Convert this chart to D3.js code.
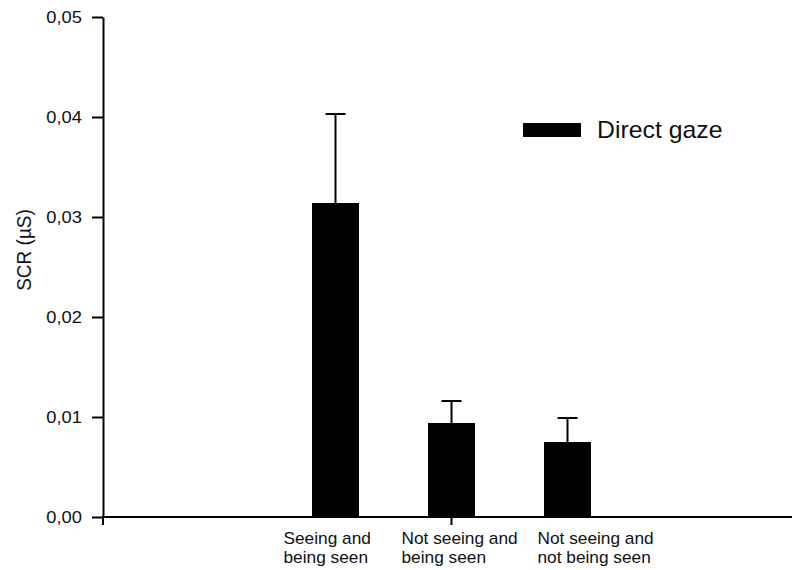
<!DOCTYPE html>
<html>
<head>
<meta charset="utf-8">
<script src="https://cdn.jsdelivr.net/npm/d3@7"></script>
<style>
  html, body { margin: 0; padding: 0; background: #fff; }
  svg { display: block; }
  text { font-family: Arial, "Liberation Sans", sans-serif; fill: #111; }
</style>
</head>
<body>
<svg id="chart" width="792" height="570"></svg>
<script>
// ---- data ----
const categories = [
  ["Seeing and", "being seen"],
  ["Not seeing and", "being seen"],
  ["Not seeing and", "not being seen"]
];
const meanSCR = [0.0314, 0.0094, 0.0075];
const seSCR   = [0.0089, 0.0022, 0.0024];
const yTicks  = [0, 0.01, 0.02, 0.03, 0.04, 0.05];
const seriesName = "Direct gaze";
const yLabel = "SCR (µS)";

// ---- layout ----
const svg = d3.select("#chart");
const SX = 1.08;                 // slight horizontal stretch seen in the reference text
const plotLeft = 103, plotBottom = 517, plotTop = 17, axisRight = 792;
const labelShift = [-52, -50, -30];

const y = d3.scaleLinear().domain([0, 0.05]).range([plotBottom, plotTop]);
const x = d3.scaleBand()
  .domain(d3.range(categories.length))
  .range([277.5, 625.5])
  .paddingInner(0.595)
  .paddingOuter(0.2975);

const fmt = d3.formatLocale({decimal: ",", thousands: ".", grouping: [3], currency: ["", ""]}).format(".2f");

// bars
svg.append("g").selectAll("rect").data(meanSCR).join("rect")
  .attr("x", (d, i) => x(i))
  .attr("width", x.bandwidth())
  .attr("y", d => y(d))
  .attr("height", d => y(0) - y(d))
  .attr("fill", "#000");

// error bars (upper only)
const eb = svg.append("g").attr("stroke", "#000").attr("stroke-width", 2);
meanSCR.forEach((m, i) => {
  const cx = x(i) + x.bandwidth() / 2;
  eb.append("line").attr("x1", cx).attr("x2", cx).attr("y1", y(m)).attr("y2", y(m + seSCR[i]));
  eb.append("line").attr("x1", cx - 10).attr("x2", cx + 10).attr("y1", y(m + seSCR[i])).attr("y2", y(m + seSCR[i]));
});

// y axis
const yAxis = d3.axisLeft(y).tickValues(yTicks).tickSize(11).tickSizeOuter(0).tickFormat(fmt);
const gy = svg.append("g").attr("transform", `translate(${plotLeft},0)`).call(yAxis);
gy.select(".domain").attr("stroke", "#000").attr("stroke-width", 2);
gy.selectAll(".tick line").attr("stroke", "#000").attr("stroke-width", 2);
gy.selectAll(".tick text").remove();
gy.selectAll(".tick").each(function(d) {
  d3.select(this).append("g")
    .attr("transform", `translate(-21,0) scale(${SX},1)`)
    .append("text")
    .attr("text-anchor", "end")
    .attr("dy", "0.35em")
    .style("font-size", "17px")
    .text(fmt(d));
});

// x axis line + ticks
const gx = svg.append("g").attr("stroke", "#000").attr("stroke-width", 2);
gx.append("line").attr("x1", plotLeft - 1).attr("x2", axisRight).attr("y1", plotBottom).attr("y2", plotBottom);
const midX = x(1) + x.bandwidth() / 2;
[plotLeft, midX].forEach(tx => {
  gx.append("line").attr("x1", tx).attr("x2", tx).attr("y1", plotBottom).attr("y2", plotBottom + 8);
});

// x category labels
categories.forEach((lines, i) => {
  const g = svg.append("g")
    .attr("transform", `translate(${x(i) + x.bandwidth() / 2 + labelShift[i]},${plotBottom + 27}) scale(${SX},1)`);
  lines.forEach((t, k) => {
    g.append("text").attr("x", 0).attr("y", k * 19)
      .style("font-size", "16px").text(t);
  });
});

// y label
svg.append("g")
  .attr("transform", `translate(31,250) scale(${SX},1) rotate(-90)`)
  .append("text").attr("text-anchor", "middle")
  .style("font-size", "19px").text(yLabel);

// legend
svg.append("rect").attr("x", 523).attr("y", 123).attr("width", 58).attr("height", 14).attr("fill", "#000");
svg.append("g").attr("transform", `translate(597,138) scale(${SX},1)`)
  .append("text").style("font-size", "23px").text(seriesName);
</script>
</body>
</html>
